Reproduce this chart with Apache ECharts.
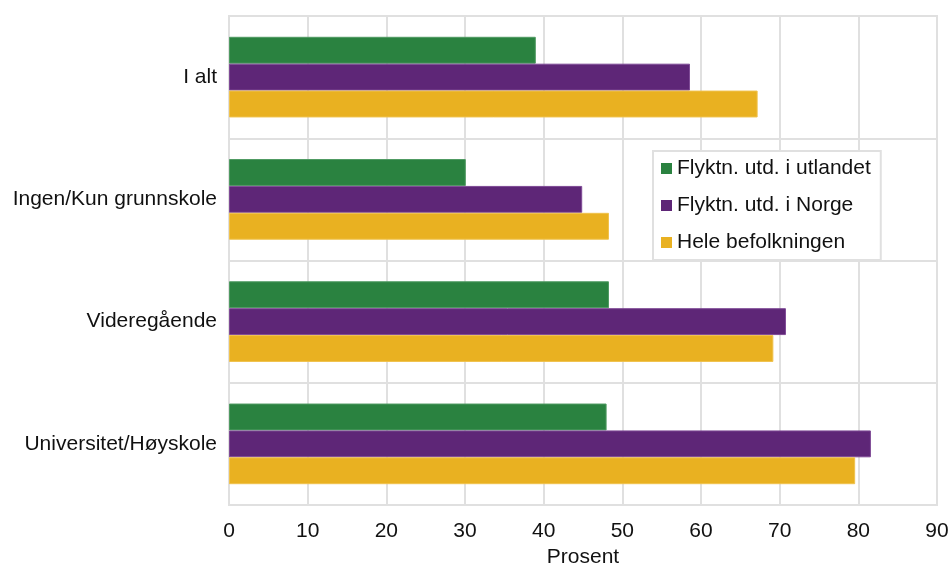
<!DOCTYPE html>
<html><head><meta charset="utf-8">
<script src="https://cdn.jsdelivr.net/npm/echarts@6/dist/echarts.min.js"></script>
<style>html,body{margin:0;padding:0;background:#fff}#c{width:951px;height:565px}</style>
</head><body><div id="c"></div>
<script>
const categories = ['I alt', 'Ingen/Kun grunnskole', 'Videregående', 'Universitet/Høyskole'];
const seriesNames = ['Flyktn. utd. i utlandet', 'Flyktn. utd. i Norge', 'Hele befolkningen'];
const utlandet = [39.0, 30.1, 48.3, 48.0];
const norge = [58.6, 44.9, 70.8, 81.6];
const befolkningen = [67.2, 48.3, 69.2, 79.6];
const xTicks = [0, 10, 20, 30, 40, 50, 60, 70, 80, 90];
const colors = ['#2a8240', '#5e2677', '#e9b121'];
const borders = ['#4f9a62', '#7f4a96', '#f0c24d'];

const font = 'Liberation Sans, Arial, sans-serif';
const chart = echarts.init(document.getElementById('c'), null, {renderer: 'canvas'});
const data = [utlandet, norge, befolkningen];
chart.setOption({
  animation: false,
  grid: {left: 229, right: 14, top: 16, bottom: 60, containLabel: false, outerBoundsMode: 'none',
    show: true, borderColor: '#e0e0e0', borderWidth: 2},
  legend: {
    orient: 'vertical', left: 653, top: 151,
    data: seriesNames,
    backgroundColor: '#fff', borderColor: '#e0e0e0', borderWidth: 2,
    padding: [7, 10, 7, 8],
    itemWidth: 11, itemHeight: 11, itemGap: 16,
    icon: 'rect',
    itemStyle: {borderWidth: 0},
    textStyle: {fontFamily: font, fontSize: 21, color: '#111'}
  },
  xAxis: {
    type: 'value', min: 0, max: 90, interval: 10,
    name: 'Prosent', nameLocation: 'middle', nameGap: 42,
    nameTextStyle: {fontFamily: font, fontSize: 21, color: '#111'},
    axisLine: {show: false}, axisTick: {show: false},
    axisLabel: {fontFamily: font, fontSize: 21, color: '#111', margin: 16,
      formatter: v => xTicks.includes(v) ? String(v) : ''},
    splitLine: {show: true, lineStyle: {color: '#e0e0e0', width: 2}}
  },
  yAxis: {
    type: 'category', data: categories, inverse: true,
    axisLine: {show: false}, axisTick: {show: false},
    axisLabel: {fontFamily: font, fontSize: 21, color: '#111', margin: 12},
    splitLine: {show: true, lineStyle: {color: '#e0e0e0', width: 2}}
  },
  series: seriesNames.map((n, i) => ({
    name: n, type: 'bar', data: data[i],
    barGap: '0%', barCategoryGap: '34%',
    itemStyle: {color: colors[i], borderColor: borders[i], borderWidth: 1}
  }))
});
</script></body></html>
